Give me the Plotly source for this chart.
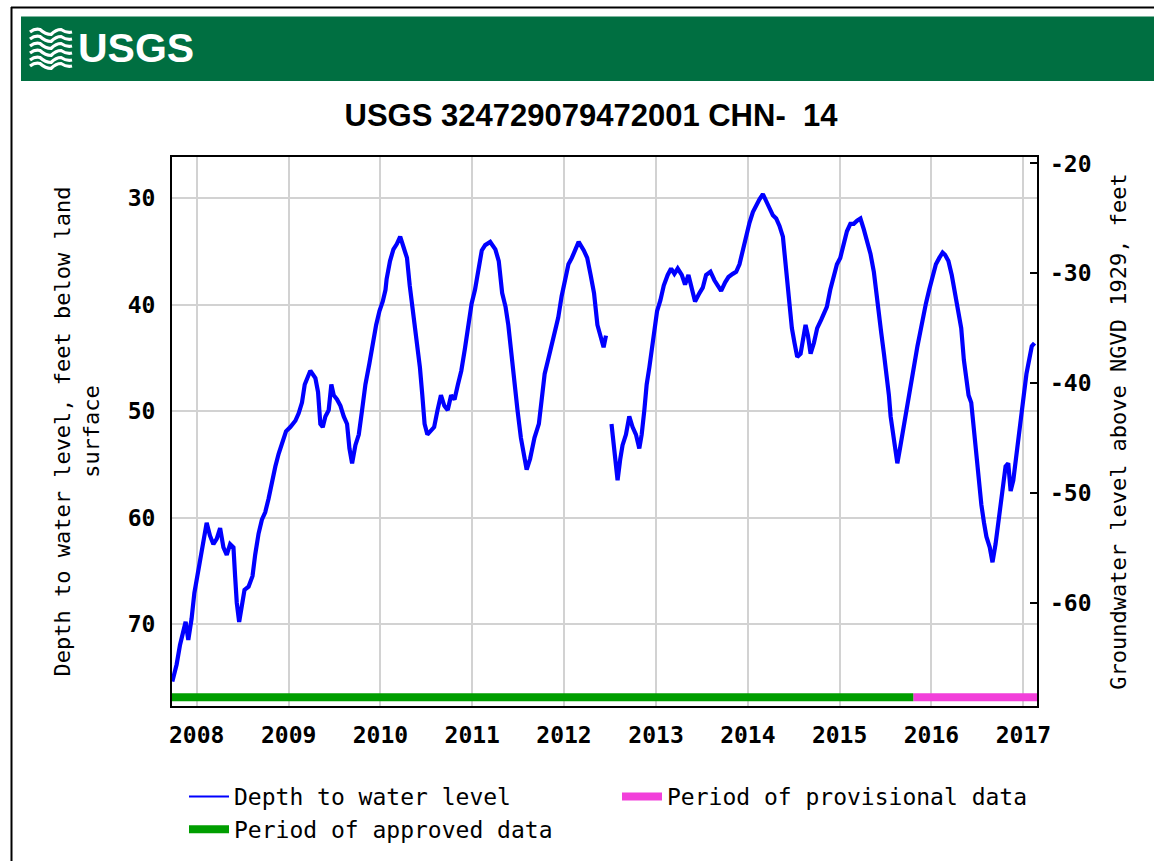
import plotly.graph_objects as go
import pandas as pd

# ---------------- data ----------------
# decimal years of the depth readings; None marks the data gap in 2012
years = [
    2007.735, 2007.782, 2007.818, 2007.855, 2007.880, 2007.909, 2007.945, 2007.975,
    2008.007, 2008.036, 2008.062, 2008.091, 2008.109, 2008.145, 2008.182, 2008.218,
    2008.255, 2008.291, 2008.327, 2008.364, 2008.400, 2008.418, 2008.436, 2008.462,
    2008.484, 2008.520, 2008.564, 2008.607, 2008.636, 2008.673, 2008.709, 2008.745,
    2008.782, 2008.818, 2008.855, 2008.891, 2008.927, 2008.971, 2009.018, 2009.073,
    2009.109, 2009.145, 2009.175, 2009.211, 2009.236, 2009.291, 2009.320, 2009.345,
    2009.371, 2009.400, 2009.436, 2009.465, 2009.491, 2009.527, 2009.564, 2009.600,
    2009.636, 2009.662, 2009.691, 2009.727, 2009.764, 2009.800, 2009.836, 2009.880,
    2009.916, 2009.953, 2009.989, 2010.025, 2010.055,
    2010.067, 2010.104, 2010.141, 2010.178, 2010.215, 2010.252, 2010.289, 2010.319,
    2010.356, 2010.393, 2010.430, 2010.456, 2010.481, 2010.511, 2010.548, 2010.585,
    2010.622, 2010.659, 2010.696, 2010.733, 2010.770, 2010.807, 2010.844, 2010.881,
    2010.919, 2010.956, 2010.993, 2011.030, 2011.067, 2011.104, 2011.141, 2011.196,
    2011.252, 2011.289, 2011.326, 2011.363, 2011.393, 2011.419, 2011.456, 2011.493,
    2011.530, 2011.567, 2011.593, 2011.630, 2011.678, 2011.726, 2011.752, 2011.789,
    2011.826, 2011.863, 2011.900, 2011.937, 2011.974, 2012.011, 2012.048, 2012.085,
    2012.122, 2012.159, 2012.215, 2012.252, 2012.289, 2012.326, 2012.363, 2012.400,
    2012.430, 2012.456,
    None,
    2012.516, 2012.538, 2012.564, 2012.582, 2012.611, 2012.636, 2012.673, 2012.709,
    2012.745, 2012.782, 2012.818, 2012.844, 2012.873, 2012.898, 2012.927, 2012.953,
    2012.982, 2013.011, 2013.047, 2013.084, 2013.127, 2013.164, 2013.200, 2013.236,
    2013.280, 2013.316, 2013.353, 2013.389, 2013.425, 2013.473, 2013.509, 2013.545,
    2013.593, 2013.636, 2013.673, 2013.709, 2013.753, 2013.789, 2013.836, 2013.873,
    2013.909, 2013.945, 2013.982, 2014.018, 2014.055, 2014.091, 2014.127, 2014.164,
    2014.200, 2014.236, 2014.273, 2014.309, 2014.345, 2014.382, 2014.400, 2014.418,
    2014.436, 2014.455, 2014.480, 2014.509, 2014.538, 2014.575, 2014.600, 2014.629,
    2014.655, 2014.684, 2014.720, 2014.756, 2014.800, 2014.836,
    2014.861, 2014.898, 2014.934, 2014.971, 2015.007, 2015.044, 2015.080, 2015.117,
    2015.154, 2015.190, 2015.227, 2015.263, 2015.300, 2015.336, 2015.373, 2015.402,
    2015.428, 2015.453, 2015.483, 2015.512, 2015.537, 2015.556, 2015.581, 2015.603,
    2015.629, 2015.658, 2015.684, 2015.709, 2015.739, 2015.768, 2015.793, 2015.819,
    2015.848, 2015.878, 2015.907, 2015.940, 2015.976, 2016.013, 2016.049, 2016.086,
    2016.122, 2016.148, 2016.185, 2016.221, 2016.258, 2016.294, 2016.324, 2016.353,
    2016.378, 2016.404, 2016.433, 2016.463, 2016.488, 2016.514, 2016.543, 2016.572,
    2016.598, 2016.634, 2016.664, 2016.697, 2016.726, 2016.755, 2016.781, 2016.806,
    2016.835, 2016.861, 2016.890, 2016.916, 2016.945, 2016.974, 2017.004, 2017.033,
    2017.062, 2017.091, 2017.121,
]

# depth to water level, feet below land surface
depth = [
    75.4, 73.8, 72.0, 70.5, 69.8, 71.5, 69.5, 67.1,
    65.5, 63.8, 62.3, 61.2, 60.5, 61.7, 62.5, 62.0,
    61.0, 62.8, 63.5, 62.5, 62.8, 65.5, 68.0, 69.8,
    68.5, 66.8, 66.5, 65.5, 63.5, 61.5, 60.2, 59.5,
    58.2, 56.5, 55.2, 54.0, 52.9, 51.9, 51.5, 50.9,
    50.2, 49.2, 47.5, 46.7, 46.2, 46.9, 48.2, 51.2,
    51.5, 50.5, 49.9, 47.5, 48.5, 48.9, 49.5, 50.5,
    51.2, 53.5, 54.9, 53.2, 52.2, 49.9, 47.5, 45.5,
    43.6, 41.9, 40.6, 39.7, 38.6,
    37.6, 35.9, 34.8, 34.3, 33.6, 34.6, 35.6, 38.2,
    40.6, 42.9, 45.9, 48.5, 51.2, 52.2, 51.9, 51.5,
    49.9, 48.5, 49.5, 49.9, 48.5, 48.9, 47.5, 46.2,
    44.2, 41.9, 39.9, 38.6, 36.6, 34.9, 34.4, 34.1,
    34.8, 35.9, 38.9, 40.2, 41.9, 44.2, 47.5, 49.9,
    52.5, 54.5, 55.5, 54.5, 52.5, 51.2, 48.9, 46.5,
    45.2, 43.9, 42.9, 41.2, 39.2, 37.6, 36.2, 35.6,
    34.9, 34.1, 34.9, 35.6, 37.2, 38.9, 41.9, 43.2,
    44.0, 42.9,
    None,
    51.2, 53.2, 55.2, 56.5, 54.5, 53.2, 52.2, 50.5,
    51.5, 52.2, 53.5, 52.2, 49.9, 47.5, 45.9, 44.2,
    42.2, 40.6, 39.6, 38.2, 37.2, 36.6, 37.1, 36.6,
    37.2, 38.1, 37.2, 38.6, 39.7, 38.9, 38.4, 37.2,
    36.9, 37.7, 38.2, 38.7, 37.9, 37.4, 37.1, 36.9,
    36.2, 34.8, 33.6, 32.3, 31.3, 30.6, 30.1, 29.6,
    30.3, 31.1, 31.6, 31.9, 32.6, 33.6, 35.2, 37.2,
    38.9, 40.6, 42.2, 43.6, 44.9, 44.6, 43.2, 41.9,
    42.9, 44.6, 43.6, 42.2, 41.4, 40.6,
    40.2, 38.6, 37.2, 36.2, 35.6, 34.3, 33.1, 32.4,
    32.4, 32.1, 31.9, 32.9, 33.9, 35.2, 36.9, 39.2,
    40.6, 42.6, 44.6, 46.5, 48.5, 50.5, 51.9, 52.9,
    54.9, 53.5, 52.2, 50.5, 48.9, 47.5, 46.5, 45.2,
    43.9, 42.6, 41.2, 39.9, 38.6, 37.2, 36.2, 35.6,
    35.1, 35.3, 35.9, 37.2, 38.9, 40.6, 42.2, 45.2,
    47.2, 48.5, 49.2, 51.9, 54.2, 56.5, 58.8, 60.5,
    61.8, 62.8, 64.2, 62.5, 60.5, 58.5, 56.8, 55.2,
    54.9, 57.5, 56.5, 54.5, 52.5, 50.5, 48.5, 46.5,
    44.9, 43.9, 43.6,
]

approved_period = ["2007-09-25", "2015-10-21"]
provisional_period = ["2015-10-21", "2017-02-24"]

x_range = ["2007-09-25", "2017-02-24"]
depth_range = [77.705, 26.119]          # reversed axis
elev_range = [-69.41, -19.41]

year_ticks = ["2008-01-01", "2009-01-01", "2010-01-01", "2011-01-01", "2012-01-01",
              "2013-01-01", "2014-01-01", "2015-01-01", "2016-01-01", "2017-01-01"]
year_labels = ["2008", "2009", "2010", "2011", "2012", "2013", "2014", "2015", "2016", "2017"]
depth_ticks = [30, 40, 50, 60, 70]
elev_ticks = [-20, -30, -40, -50, -60]
elev_labels = ["-20", "-30", "-40", "-50", "-60"]

title_text = "USGS 324729079472001 CHN- \u00a014"
left_title = "Depth to water level, feet below land<br>surface"
right_title = "Groundwater level above NGVD 1929, feet"


def to_date(y):
    if y is None:
        return None
    yr = int(y)
    start = pd.Timestamp(yr, 1, 1)
    ndays = (pd.Timestamp(yr + 1, 1, 1) - start).days
    return (start + pd.Timedelta(days=(y - yr) * ndays)).strftime("%Y-%m-%d %H:%M")


dates = [to_date(y) for y in years]

# ---------------- layout geometry (pixels) ----------------
W, H = 1154, 861
L, R, T, B = 172, 117, 157, 155
PW, PH = W - L - R, H - T - B


def px(x):
    return (x - L) / PW


def py(y):
    return (H - B - y) / PH


MONO = "DejaVu Sans Mono"
SANS = "Liberation Sans Narrow, Arial Narrow, Liberation Sans, Arial"

fig = go.Figure()

# daily record (drawn thick like the dense daily band of the original)
fig.add_trace(go.Scatter(
    x=dates, y=depth, mode="lines", name="Depth to water level",
    line=dict(color="#0000FF", width=4.2), connectgaps=False,
    showlegend=False, legendgroup="depth",
))
# legend entry for the depth record (thin line swatch)
fig.add_trace(go.Scatter(
    x=[None], y=[None], mode="lines", name="Depth to water level",
    line=dict(color="#0000FF", width=2), legendgroup="depth", hoverinfo="skip",
))
fig.add_trace(go.Scatter(
    x=provisional_period, y=[0.016, 0.016], mode="lines", name="Period of provisional data",
    line=dict(color="#F23FDA", width=8), yaxis="y3",
))
fig.add_trace(go.Scatter(
    x=approved_period, y=[0.016, 0.016], mode="lines", name="Period of approved data",
    line=dict(color="#009E00", width=8), yaxis="y3",
))
# invisible trace so the right-hand axis is drawn
fig.add_trace(go.Scatter(
    x=[x_range[0]], y=[elev_range[0]], mode="markers", yaxis="y2",
    marker=dict(opacity=0), showlegend=False, hoverinfo="skip",
))

shapes = []
# page border (left and top)
shapes.append(dict(type="line", xref="paper", yref="paper", x0=px(11.5), x1=px(11.5),
                   y0=py(7), y1=py(870), line=dict(color="black", width=2)))
shapes.append(dict(type="line", xref="paper", yref="paper", x0=px(11), x1=px(1160),
                   y0=py(7.5), y1=py(7.5), line=dict(color="black", width=2)))
# green USGS banner
shapes.append(dict(type="rect", xref="paper", yref="paper", x0=px(21), x1=px(1160),
                   y0=py(81), y1=py(16.5), fillcolor="#006F41", line=dict(width=0), layer="below"))


def wave(y0, amp):
    pts = [(30, y0), (40, y0 - amp), (51, y0 + amp), (61, y0 - amp), (72, y0)]
    d = "M {},{}".format(px(pts[0][0]), py(pts[0][1]))
    for i in range(1, len(pts)):
        xa, ya = pts[i - 1]
        xb, yb = pts[i]
        d += " Q {},{} {},{}".format(px((xa + xb) / 2), py(ya + (yb - ya) * 0.5 - (amp if i % 2 else -amp)),
                                      px(xb), py(yb))
    return d


for yy in [32, 39, 46, 53, 60, 66]:
    shapes.append(dict(type="path", xref="paper", yref="paper", path=wave(yy, 2.5),
                       line=dict(color="white", width=3.2)))

annotations = [
    dict(text="<b>USGS</b>", xref="paper", yref="paper", x=px(76), y=py(48),
         xanchor="left", yanchor="middle", showarrow=False,
         font=dict(family=SANS, size=41, color="white")),
]

fig.update_layout(
    width=W, height=H,
    margin=dict(l=L, r=R, t=T, b=B, autoexpand=False),
    paper_bgcolor="white", plot_bgcolor="white",
    title=dict(text=title_text, x=px(591), xref="paper", xanchor="center",
               y=1 - 115 / H, yref="container", yanchor="middle",
               font=dict(family=SANS, size=31, color="black", weight="bold")),
    xaxis=dict(
        type="date", range=x_range, tickvals=year_ticks, ticktext=year_labels,
        showgrid=True, gridcolor="#D2D2D2", gridwidth=2,
        showline=True, linecolor="black", linewidth=2, mirror=True,
        ticks="", ticklabelstandoff=7, zeroline=False,
        tickfont=dict(family=MONO, size=23, color="black", weight="bold"),
    ),
    yaxis=dict(
        range=depth_range, tickvals=depth_ticks,
        showgrid=True, gridcolor="#D2D2D2", gridwidth=2,
        showline=True, linecolor="black", linewidth=2, mirror=True,
        ticks="", ticklabelstandoff=10, zeroline=False,
        tickfont=dict(family=MONO, size=23, color="black", weight="bold"),
        title=dict(text=left_title, standoff=22,
                   font=dict(family=MONO, size=22, color="black")),
    ),
    yaxis2=dict(
        overlaying="y", side="right", range=elev_range,
        tickvals=elev_ticks, ticktext=elev_labels,
        showgrid=False, zeroline=False, showline=False,
        ticks="inside", ticklen=7, tickwidth=2, tickcolor="black", ticklabelstandoff=12,
        tickfont=dict(family=MONO, size=23, color="black", weight="bold"),
        title=dict(text=right_title, standoff=20,
                   font=dict(family=MONO, size=22, color="black")),
    ),
    yaxis3=dict(overlaying="y", range=[0, 1], visible=False),
    legend=dict(
        orientation="h", x=px(184), y=py(775), xanchor="left", yanchor="top",
        font=dict(family=MONO, size=23, color="black"),
        entrywidth=378, entrywidthmode="pixels", itemwidth=40,
        bgcolor="rgba(0,0,0,0)", traceorder="normal",
    ),
    shapes=shapes,
    annotations=annotations,
    showlegend=True,
)

fig.write_html("out.html", config={"displayModeBar": False},
               post_script="document.body.style.margin='0';")
